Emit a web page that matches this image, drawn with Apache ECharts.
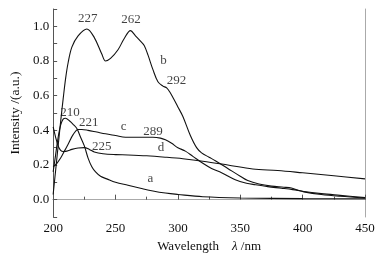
<!DOCTYPE html>
<html>
<head>
<meta charset="utf-8">
<script src="https://cdn.jsdelivr.net/npm/echarts@6/dist/echarts.min.js"></script>
<style>
  html, body { margin: 0; padding: 0; background: #fff; }
  #chart { width: 381px; height: 260px; }
</style>
</head>
<body>
<div id="chart"></div>
<script>
// spectra (wavelength in nm, intensity in a.u.)
const aX = [200, 202, 204, 206, 208, 210, 213, 216, 219, 222, 225, 228, 231, 234, 238, 243, 250, 260, 270, 280, 290, 300, 320, 350, 400, 450];
const aY = [0.16, 0.26, 0.36, 0.43, 0.465, 0.47, 0.455, 0.435, 0.41, 0.36, 0.31, 0.24, 0.19, 0.16, 0.135, 0.12, 0.10, 0.083, 0.066, 0.05, 0.038, 0.03, 0.017, 0.01, 0.006, 0.005];

const bX = [200, 202, 204, 206, 208, 210, 212, 215, 220, 227, 233, 239, 242, 246, 252, 257, 262, 266, 270, 273, 276, 280, 284, 288, 291, 294, 297, 300, 304, 310, 315, 319, 325, 330, 340, 350, 356, 365, 375, 385, 391, 396, 401, 415, 430, 450];
const bY = [0.03, 0.17, 0.31, 0.45, 0.58, 0.70, 0.79, 0.88, 0.945, 0.985, 0.935, 0.84, 0.80, 0.815, 0.865, 0.93, 0.975, 0.945, 0.915, 0.89, 0.835, 0.75, 0.68, 0.655, 0.645, 0.615, 0.576, 0.535, 0.48, 0.37, 0.30, 0.27, 0.245, 0.225, 0.18, 0.135, 0.11, 0.09, 0.078, 0.072, 0.067, 0.055, 0.045, 0.03, 0.02, 0.01];

const cX = [200, 203, 206, 209, 212, 216, 220, 223, 228, 235, 242, 250, 258, 265, 272, 280, 286, 290, 295, 300, 306, 312, 320, 327, 335, 346, 355, 362, 372, 383, 392, 401, 415, 430, 450];
const cY = [0.19, 0.21, 0.24, 0.28, 0.32, 0.375, 0.405, 0.405, 0.40, 0.39, 0.38, 0.37, 0.36, 0.36, 0.36, 0.36, 0.355, 0.345, 0.325, 0.30, 0.28, 0.25, 0.21, 0.18, 0.155, 0.115, 0.095, 0.086, 0.075, 0.066, 0.058, 0.047, 0.035, 0.025, 0.012];

const dX = [200, 202, 204, 206, 208, 211, 215, 220, 225, 229, 233, 240, 250, 260, 275, 290, 304, 320, 340, 360, 380, 400, 425, 450];
const dY = [0.42, 0.36, 0.31, 0.285, 0.278, 0.28, 0.29, 0.298, 0.30, 0.29, 0.275, 0.265, 0.26, 0.258, 0.253, 0.245, 0.236, 0.222, 0.20, 0.177, 0.168, 0.155, 0.138, 0.12];

// peak / curve annotations
const noteText = ["227", "262", "b", "292", "210", "221", "225", "c", "289", "d", "a"];
const noteX = [227.7, 262.5, 288.5, 298.9, 213.5, 228.5, 239, 256.5, 280, 286.5, 278];
const noteY = [1.043, 1.037, 0.80, 0.686, 0.50, 0.445, 0.307, 0.42, 0.39, 0.298, 0.12];

const pairs = (xs, ys) => xs.map((x, i) => [x, ys[i]]);
const serif = "'Liberation Serif', 'DejaVu Serif', serif";
const ink = "#111";

const chart = echarts.init(document.getElementById("chart"));

const lineSeries = [[aX, aY], [bX, bY], [cX, cY], [dX, dY]].map(([xs, ys]) => ({
  type: "line",
  data: pairs(xs, ys),
  smooth: 0.35,
  showSymbol: false,
  lineStyle: { color: "#111", width: 1.1 },
  animation: false,
}));

chart.setOption({
  backgroundColor: "#fff",
  animation: false,
  grid: { left: 49, right: 16, top: 9, bottom: 43 },

  xAxis: [
    {
      type: "value",
      min: 200,
      max: 450,
      interval: 50,
      position: "bottom",
      name: "Wavelength    {i|λ} /nm",
      nameLocation: "middle",
      nameGap: 22,
      nameTextStyle: {
        fontFamily: serif,
        fontSize: 13,
        color: ink,
        rich: { i: { fontFamily: serif, fontStyle: "italic", fontSize: 13, color: ink } },
      },
      axisLine: { lineStyle: { color: "#555", width: 1 } },
      axisTick: { inside: true, length: 5, lineStyle: { color: "#555" } },
      minorTick: { show: true, splitNumber: 2, length: 3, lineStyle: { color: "#555" } },
      splitLine: { show: false },
      axisLabel: { fontFamily: serif, fontSize: 13, color: ink, margin: 5 },
    },
    {
      type: "value",
      min: 200,
      max: 450,
      position: "top",
      axisLine: { lineStyle: { color: "#aaa" } },
      axisTick: { show: false },
      axisLabel: { show: false },
      splitLine: { show: false },
    },
  ],

  yAxis: [
    {
      type: "value",
      min: -0.1,
      max: 1.1,
      interval: 0.1,
      name: "Intensity /(a.u.)",
      nameLocation: "middle",
      nameGap: 26,
      nameTextStyle: { fontFamily: serif, fontSize: 13.5, color: ink },
      axisLine: { show: true, lineStyle: { color: "#555", width: 1 } },
      axisTick: { inside: true, length: 4, lineStyle: { color: "#555" } },
      splitLine: { show: false },
      axisLabel: {
        fontFamily: serif,
        fontSize: 13,
        color: ink,
        margin: 4,
        formatter: (v) => {
          const t = Math.round(v * 10);
          return t >= 0 && t <= 10 && t % 2 === 0 ? (t / 10).toFixed(1) : "";
        },
      },
    },
    {
      type: "value",
      min: -0.1,
      max: 1.1,
      position: "right",
      axisLine: { show: true, lineStyle: { color: "#aaa" } },
      axisTick: { show: false },
      axisLabel: { show: false },
      splitLine: { show: false },
    },
  ],

  series: [
    ...lineSeries,
    {
      type: "scatter",
      symbolSize: 0,
      data: noteText.map((t, i) => ({ name: t, value: [noteX[i], noteY[i]] })),
      label: {
        show: true,
        position: "inside",
        formatter: (p) => p.name,
        fontFamily: serif,
        fontSize: 13,
        color: ink,
      },
      silent: true,
    },
  ],
});
</script>
</body>
</html>
